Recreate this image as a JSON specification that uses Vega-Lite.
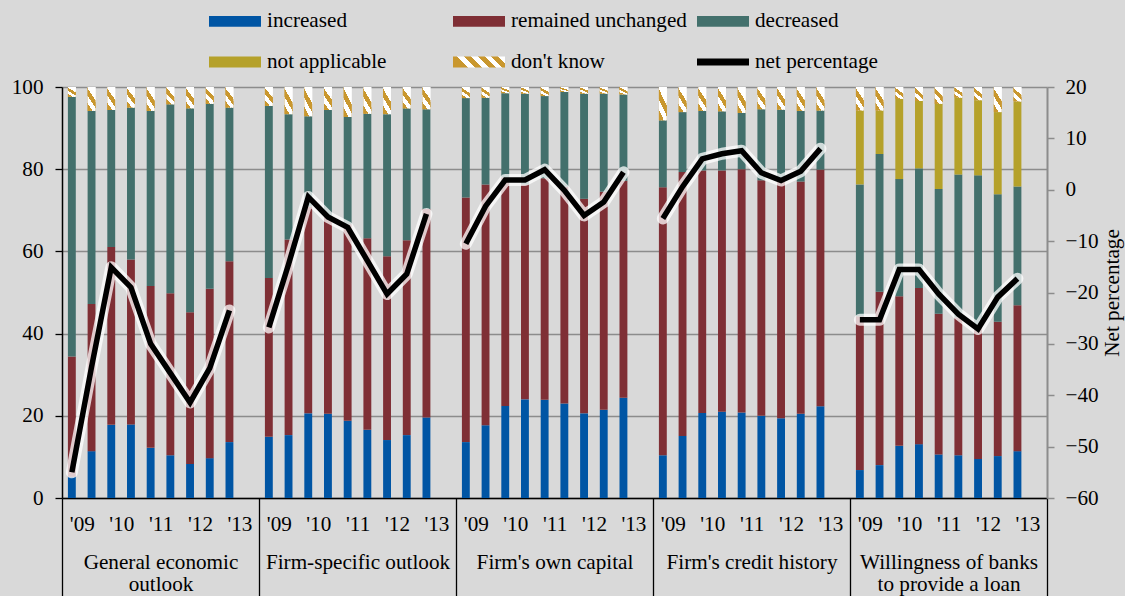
{
  "$schema": "https://vega.github.io/schema/vega-lite/v6.json",
  "autosize": {"type": "none"},
  "width": 985,
  "height": 411,
  "padding": {"left": 62, "top": 87, "right": 78, "bottom": 98},
  "background": "#d9d9d9",
  "config": {
    "view": {"stroke": null},
    "font": "Liberation Serif",
    "axis": {"labelFont": "Liberation Serif", "labelFontSize": 21.2, "labelColor": "#000000", "titleFont": "Liberation Serif", "titleFontSize": 21.2, "titleFontWeight": "normal", "titleColor": "#000000"},
    "legend": {"labelFont": "Liberation Serif", "labelFontSize": 21.2, "labelColor": "#000000"}
  },
  "datasets": {
    "types": [
      {"key": "inc", "label": "increased", "rank": 1},
      {"key": "unch", "label": "remained unchanged", "rank": 2},
      {"key": "dec", "label": "decreased", "rank": 3},
      {"key": "na", "label": "not applicable", "rank": 4},
      {"key": "dk", "label": "don't know", "rank": 5}
    ],
    "groups": [
      {"name": "General economic outlook"},
      {"name": "Firm-specific outlook"},
      {"name": "Firm's own capital"},
      {"name": "Firm's credit history"},
      {"name": "Willingness of banks to provide a loan"}
    ],
    "survey": [
      {"cat": "A'09-1", "group": "A", "inc": 5.2, "unch": 29.2, "dec": 63.2, "dk": 2.4, "net": -55.0},
      {"cat": "A'09-2", "group": "A", "inc": 11.4, "unch": 35.8, "dec": 47.0, "dk": 5.8, "net": -34.5},
      {"cat": "A'10-1", "group": "A", "inc": 17.8, "unch": 43.3, "dec": 33.3, "dk": 5.6, "net": -15.1},
      {"cat": "A'10-2", "group": "A", "inc": 17.9, "unch": 40.1, "dec": 37.0, "dk": 5.0, "net": -19.0},
      {"cat": "A'11-1", "group": "A", "inc": 12.2, "unch": 39.4, "dec": 42.6, "dk": 5.8, "net": -30.0},
      {"cat": "A'11-2", "group": "A", "inc": 10.4, "unch": 39.4, "dec": 46.0, "dk": 4.2, "net": -35.7},
      {"cat": "A'12-1", "group": "A", "inc": 8.3, "unch": 36.9, "dec": 49.6, "dk": 5.2, "net": -41.4},
      {"cat": "A'12-2", "group": "A", "inc": 9.7, "unch": 41.2, "dec": 45.0, "dk": 4.1, "net": -34.7},
      {"cat": "A'13-1", "group": "A", "inc": 13.6, "unch": 44.0, "dec": 37.4, "dk": 5.0, "net": -23.5},
      {"cat": "B'09-1", "group": "B", "inc": 14.9, "unch": 38.6, "dec": 41.9, "dk": 4.6, "net": -26.8},
      {"cat": "B'09-2", "group": "B", "inc": 15.3, "unch": 47.6, "dec": 30.5, "dk": 6.6, "net": -14.5},
      {"cat": "B'10-1", "group": "B", "inc": 20.6, "unch": 50.3, "dec": 22.0, "dk": 7.1, "net": -1.4},
      {"cat": "B'10-2", "group": "B", "inc": 20.5, "unch": 48.1, "dec": 25.8, "dk": 5.6, "net": -5.3},
      {"cat": "B'11-1", "group": "B", "inc": 18.8, "unch": 47.8, "dec": 26.1, "dk": 7.3, "net": -7.3},
      {"cat": "B'11-2", "group": "B", "inc": 16.6, "unch": 46.6, "dec": 30.3, "dk": 6.5, "net": -13.8},
      {"cat": "B'12-1", "group": "B", "inc": 14.1, "unch": 44.7, "dec": 34.6, "dk": 6.6, "net": -20.3},
      {"cat": "B'12-2", "group": "B", "inc": 15.3, "unch": 47.4, "dec": 32.1, "dk": 5.2, "net": -16.4},
      {"cat": "B'13-1", "group": "B", "inc": 19.6, "unch": 50.7, "dec": 24.3, "dk": 5.4, "net": -4.7},
      {"cat": "C'09-1", "group": "C", "inc": 13.6, "unch": 59.5, "dec": 24.2, "dk": 2.7, "net": -10.5},
      {"cat": "C'09-2", "group": "C", "inc": 17.7, "unch": 58.6, "dec": 21.1, "dk": 2.6, "net": -3.2},
      {"cat": "C'10-1", "group": "C", "inc": 22.4, "unch": 55.6, "dec": 20.5, "dk": 1.5, "net": 1.9},
      {"cat": "C'10-2", "group": "C", "inc": 24.0, "unch": 52.3, "dec": 22.1, "dk": 1.6, "net": 1.9},
      {"cat": "C'11-1", "group": "C", "inc": 23.9, "unch": 53.9, "dec": 20.0, "dk": 2.2, "net": 3.9},
      {"cat": "C'11-2", "group": "C", "inc": 23.0, "unch": 52.7, "dec": 23.1, "dk": 1.2, "net": -0.1},
      {"cat": "C'12-1", "group": "C", "inc": 20.6, "unch": 52.2, "dec": 25.6, "dk": 1.6, "net": -5.0},
      {"cat": "C'12-2", "group": "C", "inc": 21.5, "unch": 53.0, "dec": 23.9, "dk": 1.6, "net": -2.4},
      {"cat": "C'13-1", "group": "C", "inc": 24.4, "unch": 52.8, "dec": 21.0, "dk": 1.8, "net": 3.4},
      {"cat": "D'09-1", "group": "D", "inc": 10.4, "unch": 65.2, "dec": 16.3, "dk": 8.1, "net": -5.6},
      {"cat": "D'09-2", "group": "D", "inc": 15.1, "unch": 64.2, "dec": 14.6, "dk": 6.1, "net": 0.6},
      {"cat": "D'10-1", "group": "D", "inc": 20.7, "unch": 59.0, "dec": 14.5, "dk": 5.8, "net": 6.0},
      {"cat": "D'10-2", "group": "D", "inc": 21.0, "unch": 58.7, "dec": 14.4, "dk": 5.9, "net": 7.0},
      {"cat": "D'11-1", "group": "D", "inc": 20.8, "unch": 59.2, "dec": 13.7, "dk": 6.3, "net": 7.6},
      {"cat": "D'11-2", "group": "D", "inc": 20.0, "unch": 57.3, "dec": 17.3, "dk": 5.4, "net": 3.3},
      {"cat": "D'12-1", "group": "D", "inc": 19.4, "unch": 57.5, "dec": 17.6, "dk": 5.5, "net": 1.8},
      {"cat": "D'12-2", "group": "D", "inc": 20.5, "unch": 56.5, "dec": 17.2, "dk": 5.8, "net": 3.6},
      {"cat": "D'13-1", "group": "D", "inc": 22.3, "unch": 57.6, "dec": 14.4, "dk": 5.7, "net": 8.0},
      {"cat": "E'09-1", "group": "E", "inc": 6.8, "unch": 37.4, "dec": 32.1, "na": 18.0, "dk": 5.7, "net": -25.3},
      {"cat": "E'09-2", "group": "E", "inc": 8.0, "unch": 42.2, "dec": 33.5, "na": 10.6, "dk": 5.7, "net": -25.3},
      {"cat": "E'10-1", "group": "E", "inc": 12.7, "unch": 36.4, "dec": 28.5, "na": 19.5, "dk": 2.9, "net": -15.5},
      {"cat": "E'10-2", "group": "E", "inc": 13.1, "unch": 38.0, "dec": 29.1, "na": 16.4, "dk": 3.4, "net": -15.5},
      {"cat": "E'11-1", "group": "E", "inc": 10.6, "unch": 34.2, "dec": 30.4, "na": 20.7, "dk": 4.1, "net": -20.3},
      {"cat": "E'11-2", "group": "E", "inc": 10.4, "unch": 33.6, "dec": 34.7, "na": 18.7, "dk": 2.6, "net": -24.2},
      {"cat": "E'12-1", "group": "E", "inc": 9.5, "unch": 32.4, "dec": 36.6, "na": 18.3, "dk": 3.2, "net": -27.1},
      {"cat": "E'12-2", "group": "E", "inc": 10.2, "unch": 32.7, "dec": 31.0, "na": 20.0, "dk": 6.1, "net": -20.9},
      {"cat": "E'13-1", "group": "E", "inc": 11.4, "unch": 35.5, "dec": 28.9, "na": 20.7, "dk": 3.5, "net": -17.3}
    ]
  },
  "layer": [
    {
      "data": {"name": "survey"},
      "encoding": {
        "x": {
          "field": "cat", "type": "nominal",
          "scale": {
            "type": "band", "paddingInner": 0.6, "paddingOuter": 0.3,
            "domain": ["A'09-1","A'09-2","A'10-1","A'10-2","A'11-1","A'11-2","A'12-1","A'12-2","A'13-1","A'13-2",
                       "B'09-1","B'09-2","B'10-1","B'10-2","B'11-1","B'11-2","B'12-1","B'12-2","B'13-1","B'13-2",
                       "C'09-1","C'09-2","C'10-1","C'10-2","C'11-1","C'11-2","C'12-1","C'12-2","C'13-1","C'13-2",
                       "D'09-1","D'09-2","D'10-1","D'10-2","D'11-1","D'11-2","D'12-1","D'12-2","D'13-1","D'13-2",
                       "E'09-1","E'09-2","E'10-1","E'10-2","E'11-1","E'11-2","E'12-1","E'12-2","E'13-1","E'13-2"]
          },
          "axis": {
            "orient": "bottom", "title": null, "ticks": false, "domain": true, "domainColor": "#000000", "domainWidth": 1.5,
            "labelExpr": "slice(datum.value, -1) == '1' ? slice(datum.value, 1, 4) : ''",
            "labelOffset": 10.5, "labelPadding": 15, "labelAngle": 0, "labelOverlap": false, "labelBound": false, "labelFlush": false, "grid": false
          }
        }
      },
      "layer": [
        {
          "transform": [
            {"fold": ["inc", "unch", "dec", "na", "dk"], "as": ["key", "value"]},
            {"filter": "isValid(datum.value)"},
            {"lookup": "key", "from": {"data": {"name": "types"}, "key": "key", "fields": ["label", "rank"]}},
            {"stack": "value", "groupby": ["cat"], "sort": [{"field": "rank", "order": "ascending"}], "as": ["v0", "v1"]}
          ],
          "encoding": {
            "y": {
              "field": "v0", "type": "quantitative",
              "scale": {"domain": [0, 100], "nice": false},
              "axis": {
                "orient": "left", "title": null, "values": [0, 20, 40, 60, 80, 100],
                "domainColor": "#000000", "domainWidth": 1.5, "tickColor": "#000000", "tickSize": 7, "tickWidth": 1.3,
                "labelPadding": 12, "grid": true, "gridColor": "#8c8c8c", "gridWidth": 1.5
              }
            },
            "y2": {"field": "v1"}
          },
          "layer": [
            {
              "mark": {"type": "bar"},
              "encoding": {
                "color": {
                  "field": "label", "type": "nominal",
                  "scale": {
                    "domain": ["increased", "remained unchanged", "decreased", "not applicable", "don't know", "net percentage"],
                    "range": ["#0055a4", "#7f2f35", "#43706c", "#b5a12a",
                      {"expr": "{gradient: 'linear', x1: 0, y1: 0.21, x2: 1, y2: 0, stops: [{offset: 0, color: '#c9972e'}, {offset: 0.125, color: '#c9972e'}, {offset: 0.125, color: '#ffffff'}, {offset: 0.25, color: '#ffffff'}, {offset: 0.25, color: '#c9972e'}, {offset: 0.375, color: '#c9972e'}, {offset: 0.375, color: '#ffffff'}, {offset: 0.5, color: '#ffffff'}, {offset: 0.5, color: '#c9972e'}, {offset: 0.625, color: '#c9972e'}, {offset: 0.625, color: '#ffffff'}, {offset: 0.75, color: '#ffffff'}, {offset: 0.75, color: '#c9972e'}, {offset: 0.875, color: '#c9972e'}, {offset: 0.875, color: '#ffffff'}, {offset: 1, color: '#ffffff'}]}"},
                      "#000000"]
                  },
                  "legend": {
                    "title": null, "orient": "none", "direction": "horizontal", "legendX": 147, "legendY": -92, "columns": 3, "gridAlign": "all",
                    "columnPadding": 10, "rowPadding": 4, "padding": 0, "offset": 0,
                    "symbolSize": 2704, "symbolType": "M-1,-0.21H1V0.21H-1Z", "labelOffset": 6, "labelLimit": 400,
                    "encode": {
                      "symbols": {
                        "update": {
                          "stroke": {"value": "transparent"},
                          "strokeWidth": {"value": 0},
                          "opacity": {"value": 1},
                          "shape": {"signal": "datum.value === 'net percentage' ? 'M-1,-0.13H1V0.13H-1Z' : 'M-1,-0.21H1V0.21H-1Z'"}
                        }
                      }
                    }
                  }
                }
              }
            },
            {
              "transform": [{"filter": {"field": "key", "equal": "dk"}}],
              "mark": {"type": "bar", "color": {"gradient": "linear", "x1": 0, "y1": 1, "x2": 0.5, "y2": 0, "stops": [
                {"offset": 0, "color": "#c9972e"}, {"offset": 0.25, "color": "#c9972e"},
                {"offset": 0.25, "color": "#ffffff"}, {"offset": 0.5, "color": "#ffffff"},
                {"offset": 0.5, "color": "#c9972e"}, {"offset": 0.75, "color": "#c9972e"},
                {"offset": 0.75, "color": "#ffffff"}, {"offset": 1, "color": "#ffffff"}]}},
              "encoding": {}
            }
          ]
        },
        {
          "encoding": {
            "y": {
              "field": "net", "type": "quantitative",
              "scale": {"domain": [-60, 20], "nice": false, "zero": false},
              "axis": {
                "orient": "right", "title": "Net percentage", "titleAngle": 270, "titlePadding": 24,
                "values": [-60, -50, -40, -30, -20, -10, 0, 10, 20],
                "domainColor": "#8c8c8c", "domainWidth": 2, "tickColor": "#8c8c8c", "tickSize": 7, "tickWidth": 1.5,
                "labelPadding": 11, "grid": false
              }
            },
            "detail": {"field": "group", "type": "nominal"}
          },
          "layer": [
            {
              "mark": {"type": "line", "color": "#ffffff", "strokeWidth": 12, "opacity": 0.75, "strokeJoin": "round", "strokeCap": "round"},
              "encoding": {}
            },
            {
              "mark": {"type": "line", "strokeWidth": 5.5, "strokeJoin": "miter"},
              "encoding": {"color": {"datum": "net percentage", "type": "nominal"}}
            }
          ]
        }
      ],
      "resolve": {"scale": {"y": "independent"}}
    },
    {
      "data": {"name": "groups"},
      "mark": {"type": "rule", "strokeOpacity": 0},
      "encoding": {
        "x": {
          "field": "name", "type": "nominal",
          "scale": {"type": "band", "paddingInner": 0, "paddingOuter": 0,
            "domain": ["General economic outlook", "Firm-specific outlook", "Firm's own capital", "Firm's credit history", "Willingness of banks to provide a loan"]},
          "axis": {
            "orient": "bottom", "title": null, "domain": false, "ticks": true, "tickBand": "extent", "tickSize": 98,
            "tickColor": "#000000", "tickWidth": 1.3, "labelPadding": -45, "labelLineHeight": 22, "labelAngle": 0,
            "labelOverlap": false, "labelBound": false, "labelLimit": 0, "labelFlush": false, "grid": false,
            "labelExpr": "datum.value == 'General economic outlook' ? ['General economic', 'outlook'] : datum.value == 'Willingness of banks to provide a loan' ? ['Willingness of banks', 'to provide a loan'] : datum.value"
          }
        }
      }
    }
  ],
  "resolve": {"scale": {"x": "independent"}}
}
